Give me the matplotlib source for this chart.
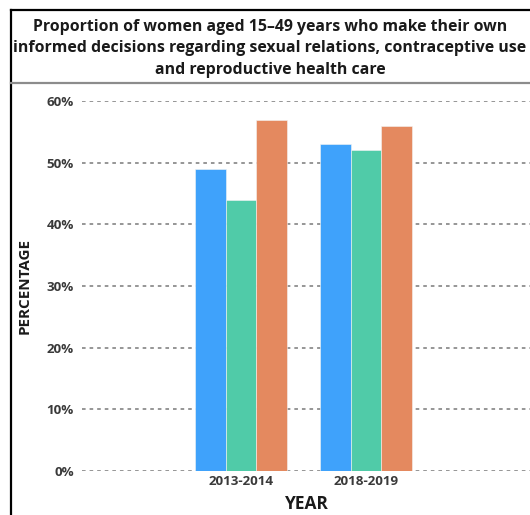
import matplotlib
matplotlib.use("Agg")
import matplotlib.pyplot as plt
from matplotlib.lines import Line2D
import numpy as np

# Data
years = ["2013-2014", "2018-2019"]
series_a = [49, 53]   # blue
series_b = [44, 52]   # green
series_c = [57, 56]   # orange
y_ticks = [0, 10, 20, 30, 40, 50, 60]

title = ("Proportion of women aged 15\u201349 years who make their own\n"
         "informed decisions regarding sexual relations, contraceptive use\n"
         "and reproductive health care")

plt.rcParams["font.family"] = ["Open Sans", "DejaVu Sans"]

W, H = 530, 515
fig = plt.figure(figsize=(W / 100, H / 100), dpi=100)
fig.patch.set_facecolor("white")

def fx(px):
    return px / W

def fy(py):
    return 1 - py / H

ax = fig.add_axes([fx(82), fy(471), fx(531) - fx(82), fy(101) - fy(471)])

colors = ["#3fa2fb", "#50cba8", "#e4895f"]
x = np.arange(len(years))
bw = 0.244
for off, vals, c in zip([-bw, 0, bw], [series_a, series_b, series_c], colors):
    ax.bar(x + off, vals, width=bw, color=c, edgecolor="#f4f4f4", linewidth=0.4, zorder=3)

ax.set_xlim(-1.272, 2.32)
ax.set_ylim(0, 60)
ax.set_yticks(y_ticks)
ax.set_yticklabels([f"{t}%" for t in y_ticks])
ax.set_xticks(x)
ax.set_xticklabels(years)

for s in ax.spines.values():
    s.set_visible(False)
ax.tick_params(axis="both", length=0, colors="#3a3a3a", labelsize=9.6)
ax.tick_params(axis="y", pad=6)
ax.tick_params(axis="x", pad=3)
for lbl in ax.get_xticklabels() + ax.get_yticklabels():
    lbl.set_fontweight("bold")

ax.yaxis.grid(True, color="#8e8e8e", linestyle=(0, (2.0, 2.2)), linewidth=1.3, zorder=0)
ax.xaxis.grid(False)
ax.set_axisbelow(True)

ax.set_ylabel("PERCENTAGE", fontsize=11, fontweight="bold", color="#1a1a1a", va="center")
ax.yaxis.set_label_coords((25 - 82) / 449, 0.5)
ax.set_xlabel("YEAR", fontsize=12.5, fontweight="bold", color="#1a1a1a", va="center")
ax.xaxis.set_label_coords(0.5, (471 - 504) / 370)

fig.text(fx(270), fy(48.5), title, ha="center", va="center", multialignment="center",
         fontsize=11.4, fontweight="bold", color="#1a1a1a", linespacing=1.42)

# Panel frame and title separator
fig.add_artist(Line2D([fx(11), fx(11)], [fy(10), fy(515)], color="black", linewidth=1.6))
fig.add_artist(Line2D([fx(11), fx(530)], [fy(10), fy(10)], color="black", linewidth=1.6))
fig.add_artist(Line2D([fx(11), fx(530)], [fy(83), fy(83)], color="#8c8c8c", linewidth=1.6))

fig.savefig("out.png", dpi=100, facecolor="white")
